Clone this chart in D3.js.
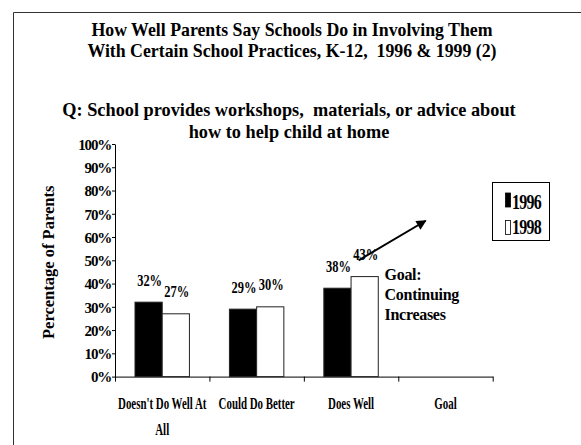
<!DOCTYPE html>
<html>
<head>
<meta charset="utf-8">
<script src="https://cdn.jsdelivr.net/npm/d3@7"></script>
<style>
  html, body { margin: 0; padding: 0; background: #fff; }
  svg { display: block; font-family: "Liberation Serif", "Times New Roman", serif; }
  text { white-space: pre; }
</style>
</head>
<body>
<svg id="chart" width="581" height="445"></svg>
<script>
// Responses by category, two survey years
const categories = ["Doesn't Do Well At All", "Could Do Better", "Does Well", "Goal"];
const categoryLines = [["Doesn't Do Well At", "All"], ["Could Do Better"], ["Does Well"], ["Goal"]];
const seriesNames = ["1996", "1998"];
const values1996 = [0.32, 0.29, 0.38, null];
const values1998 = [0.27, 0.30, 0.43, null];
const yTicks = [0, 0.1, 0.2, 0.3, 0.4, 0.5, 0.6, 0.7, 0.8, 0.9, 1.0];
const titleLines = [
  "How Well Parents Say Schools Do in Involving Them",
  "With Certain School Practices, K-12,  1996 & 1999 (2)"
];
const questionLines = [
  "Q: School provides workshops,  materials, or advice about",
  "how to help child at home"
];
const goalNote = ["Goal:", "Continuing", "Increases"];

const svg = d3.select("#chart");
const fills = { "1996": "#000", "1998": "#fff" };

// frame lines along top and left
svg.append("line").attr("x1", 13.5).attr("y1", 12.5).attr("x2", 581).attr("y2", 12.5)
  .attr("stroke", "#333").attr("stroke-width", 1);
svg.append("line").attr("x1", 13.5).attr("y1", 12.5).attr("x2", 13.5).attr("y2", 445)
  .attr("stroke", "#333").attr("stroke-width", 1);

// titles
const titleG = svg.append("g").attr("font-weight", "bold")
  .attr("text-anchor", "middle").attr("fill", "#000");
titleLines.forEach((t, i) => titleG.append("text").attr("font-size", 17.8)
  .attr("x", 292).attr("y", 35.5 + i * 21).text(t));
questionLines.forEach((t, i) => titleG.append("text").attr("font-size", 18.3)
  .attr("x", 289).attr("y", 115.5 + i * 22).text(t));

// scales
const plot = { left: 115, right: 492.7, top: 144, bottom: 376.6 };
const x = d3.scaleBand().domain(categories).range([plot.left, plot.right]).padding(0);
const xs = d3.scaleBand().domain(seriesNames).range([20, x.bandwidth() - 20]).padding(0);
const y = d3.scaleLinear().domain([0, 1]).range([plot.bottom, plot.top]);
const xEdges = d3.scaleLinear().domain([0, categories.length]).range([plot.left, plot.right]);

// y axis
const yAxis = svg.append("g").attr("transform", `translate(${plot.left},0)`)
  .call(d3.axisLeft(y).tickValues(yTicks).tickFormat(d3.format(".0%")).tickSize(3).tickSizeOuter(0));
yAxis.select(".domain").attr("stroke", "#000");
yAxis.selectAll(".tick line").attr("stroke", "#000");
yAxis.selectAll(".tick text")
  .attr("x", -4).attr("dy", "0.35em")
  .attr("font-family", "Liberation Serif, Times New Roman, serif")
  .attr("font-size", 15).attr("font-weight", "bold").attr("letter-spacing", -1.2)
  .attr("fill", "#000");

// x axis: ticks on category boundaries
const xAxis = svg.append("g").attr("transform", `translate(0,${plot.bottom})`)
  .call(d3.axisBottom(xEdges).tickValues(d3.range(categories.length + 1)).tickFormat("").tickSize(5).tickSizeOuter(0));
xAxis.select(".domain").attr("stroke", "#000");
xAxis.selectAll(".tick line").attr("stroke", "#000");

// category labels
const catG = svg.append("g").attr("font-size", 16).attr("font-weight", "bold").attr("fill", "#000");
categories.forEach((c, i) => {
  categoryLines[i].forEach((line, j) => {
    catG.append("text")
      .attr("transform", `translate(${x(c) + x.bandwidth() / 2},${plot.bottom + 32.5 + j * 26}) scale(0.68,1)`)
      .attr("text-anchor", "middle").text(line);
  });
});

// y axis title
svg.append("text")
  .attr("transform", `translate(54,${(plot.top + plot.bottom) / 2 + 2}) rotate(-90)`)
  .attr("text-anchor", "middle").attr("font-size", 16.5).attr("font-weight", "bold")
  .text("Percentage of Parents");

// bars
const rows = categories.map((c, i) => ({ c, vals: [values1996[i], values1998[i]] }));
const barG = svg.append("g");
rows.forEach(r => {
  r.vals.forEach((v, k) => {
    if (v == null) return;
    const s = seriesNames[k];
    barG.append("rect")
      .attr("x", x(r.c) + xs(s)).attr("y", y(v))
      .attr("width", xs.bandwidth()).attr("height", y(0) - y(v))
      .attr("fill", fills[s]).attr("stroke", "#222").attr("stroke-width", 1);
    barG.append("text")
      .attr("transform", `translate(${x(r.c) + xs(s) + xs.bandwidth() / 2 + 1},${y(v) - 16.5}) scale(0.78,1)`)
      .attr("text-anchor", "middle").attr("font-size", 16).attr("font-weight", "bold")
      .text(d3.format(".0%")(v));
  });
});

// goal annotation arrow, positioned in data space
const arrowFrom = { cat: "Does Well", frac: 0.58, v: 0.50 };
const arrowTo = { cat: "Goal", frac: 0.29, v: 0.67 };
const ax1 = x(arrowFrom.cat) + x.bandwidth() * arrowFrom.frac, ay1 = y(arrowFrom.v);
const ax2 = x(arrowTo.cat) + x.bandwidth() * arrowTo.frac, ay2 = y(arrowTo.v);
svg.append("defs").append("marker")
  .attr("id", "head").attr("viewBox", "0 0 10 10").attr("refX", 9).attr("refY", 5)
  .attr("markerWidth", 5.5).attr("markerHeight", 5).attr("markerUnits", "strokeWidth").attr("orient", "auto")
  .append("path").attr("d", "M0,0 L10,5 L0,10 z").attr("fill", "#000");
svg.append("line")
  .attr("x1", ax1).attr("y1", ay1)
  .attr("x2", ax2).attr("y2", ay2)
  .attr("stroke", "#000").attr("stroke-width", 2).attr("marker-end", "url(#head)");

const noteG = svg.append("g").attr("font-size", 16).attr("font-weight", "bold");
goalNote.forEach((t, i) => noteG.append("text")
  .attr("x", x("Does Well") + x.bandwidth() * 0.855).attr("y", y(0.415) + i * 20.2)
  .attr("letter-spacing", -0.3).text(t));

// legend
const legend = svg.append("g").attr("transform", "translate(492.5,182.5)");
legend.append("rect").attr("width", 57).attr("height", 58).attr("fill", "#fff").attr("stroke", "#000");
seriesNames.forEach((s, i) => {
  legend.append("rect").attr("x", 13).attr("y", 10.5 + i * 27.5).attr("width", 5).attr("height", 14)
    .attr("fill", fills[s]).attr("stroke", "#000").attr("stroke-width", 0.8);
  legend.append("text")
    .attr("transform", `translate(19.5,${26.5 + i * 24.5}) scale(0.76,1)`)
    .attr("font-size", 21).attr("font-weight", "bold").attr("letter-spacing", -1)
    .text(s);
});
</script>
</body>
</html>
